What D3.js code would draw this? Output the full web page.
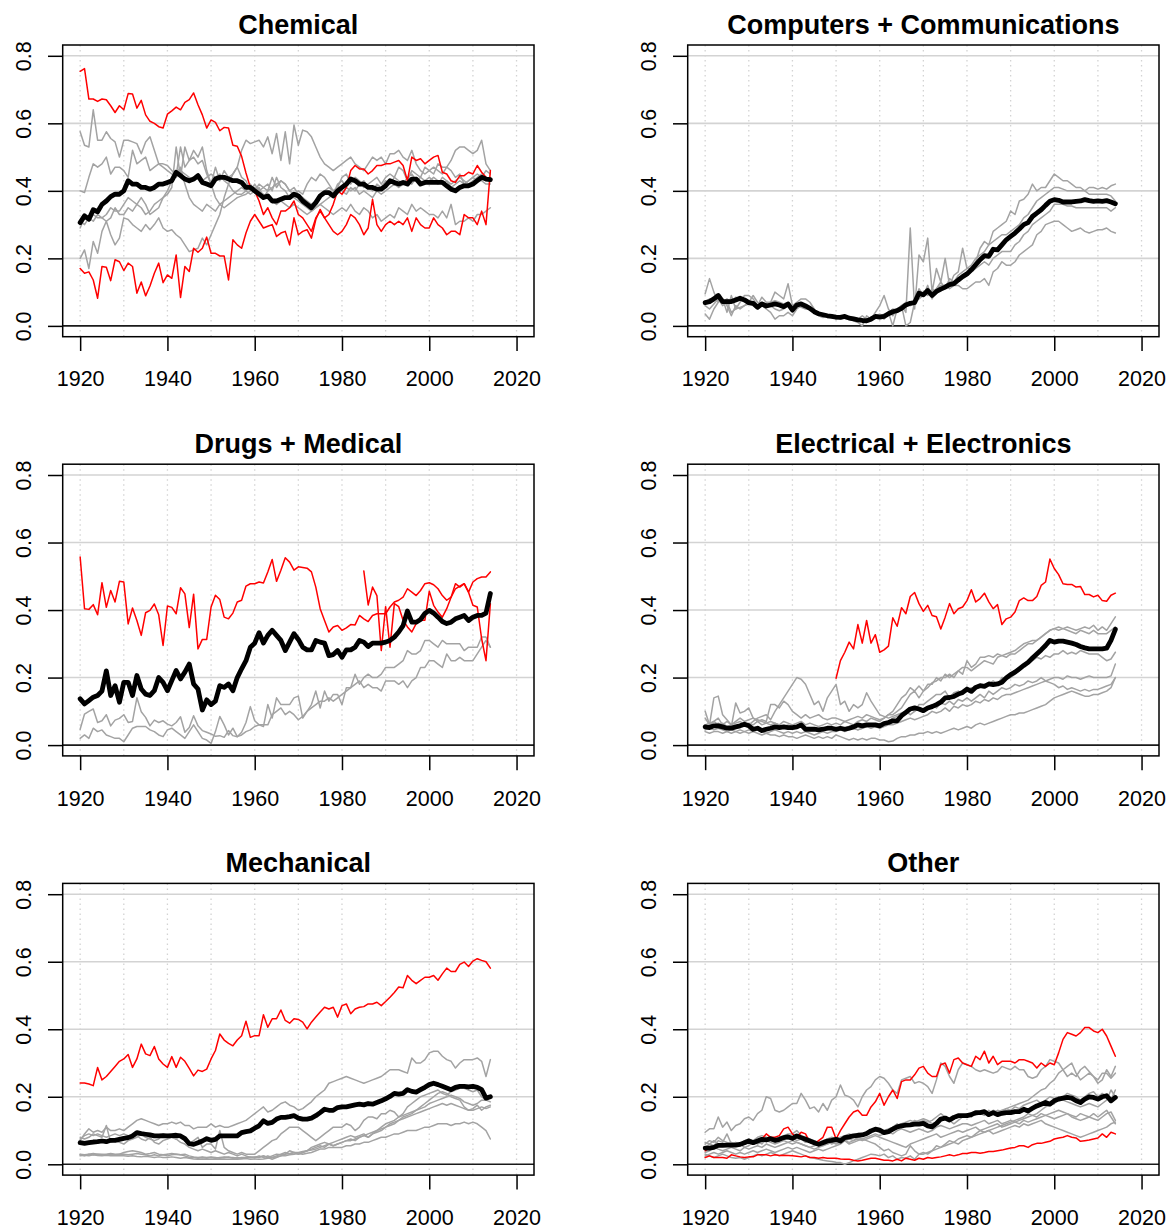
<!DOCTYPE html>
<html>
<head>
<meta charset="utf-8">
<script src="https://cdn.jsdelivr.net/npm/d3@7"></script>
<style>
  html, body { margin: 0; padding: 0; background: #fff; }
  svg { display: block; font-family: "Liberation Sans", Arial, Helvetica, sans-serif; }
</style>
</head>
<body>
<svg id="chart" width="1168" height="1227"></svg>
<script>
// ---- axis settings ----
const firstYear = 1920;
const xTicks = [1920, 1940, 1960, 1980, 2000, 2020];
const yTicks = [0, 0.2, 0.4, 0.6, 0.8];
const yTickLabels = ["0.0", "0.2", "0.4", "0.6", "0.8"];
const panelTitles = ["Chemical", "Computers + Communications", "Drugs + Medical",
                     "Electrical + Electronics", "Mechanical", "Other"];

// ---- Chemical (1920-2014) ----
const chemMean = [
  0.306,0.326,0.316,0.344,0.338,0.36,0.37,0.383,0.39,0.39,
  0.40,0.43,0.42,0.42,0.41,0.41,0.405,0.41,0.42,0.42,
  0.425,0.43,0.455,0.445,0.435,0.43,0.435,0.445,0.425,0.42,
  0.415,0.435,0.44,0.44,0.435,0.43,0.43,0.425,0.41,0.41,
  0.40,0.39,0.38,0.385,0.37,0.37,0.375,0.38,0.38,0.39,
  0.385,0.37,0.36,0.35,0.365,0.385,0.395,0.395,0.385,0.40,
  0.41,0.42,0.435,0.43,0.42,0.42,0.41,0.41,0.405,0.405,
  0.415,0.43,0.425,0.42,0.425,0.42,0.435,0.435,0.42,0.425,
  0.425,0.425,0.425,0.425,0.415,0.405,0.40,0.41,0.415,0.415,
  0.42,0.43,0.44,0.435,0.433];
const chemRedA = [
  0.754,0.762,0.672,0.672,0.665,0.672,0.67,0.652,0.632,0.652,
  0.64,0.688,0.687,0.645,0.668,0.625,0.606,0.60,0.59,0.586,
  0.627,0.637,0.648,0.64,0.662,0.67,0.69,0.655,0.625,0.586,
  0.61,0.603,0.578,0.588,0.586,0.535,0.532,0.502,0.453,0.41,
  0.40,0.37,0.33,0.35,0.32,0.30,0.34,0.34,0.35,0.37,
  0.33,0.32,0.30,0.28,0.32,0.34,0.32,0.30,0.28,0.27,
  0.28,0.30,0.33,0.32,0.30,0.27,0.29,0.375,0.30,0.28,
  0.30,0.31,0.30,0.31,0.30,0.32,0.28,0.32,0.30,0.29,
  0.29,0.32,0.30,0.29,0.27,0.28,0.28,0.27,0.33,0.32,
  0.32,0.30,0.34,0.30,0.46];
const chemRedB = [
  0.17,0.156,0.16,0.136,0.082,0.176,0.174,0.134,0.196,0.19,
  0.164,0.186,0.176,0.097,0.13,0.089,0.118,0.156,0.186,0.128,
  0.151,0.141,0.21,0.084,0.176,0.161,0.23,0.218,0.23,0.263,
  0.215,0.215,0.207,0.207,0.136,0.255,0.24,0.23,0.275,0.31,
  0.33,0.31,0.29,0.295,0.30,0.265,0.275,0.28,0.24,0.32,
  0.27,0.28,0.285,0.26,0.315,0.345,0.32,0.33,0.36,0.40,
  0.39,0.41,0.46,0.475,0.465,0.465,0.45,0.46,0.475,0.475,
  0.48,0.48,0.485,0.49,0.475,0.43,0.50,0.49,0.495,0.48,
  0.49,0.50,0.505,0.455,0.45,0.43,0.425,0.445,0.445,0.455,
  0.45,0.475,0.455,0.44,0.435];
const chemGray1 = [
  0.575,0.535,0.53,0.64,0.55,0.55,0.575,0.555,0.545,0.50,
  0.55,0.55,0.545,0.54,0.51,0.545,0.56,0.52,0.48,0.48,
  0.475,0.46,0.445,0.53,0.47,0.49,0.50,0.48,0.49,0.45,
  0.42,0.38,0.36,0.35,0.36,0.37,0.38,0.385,0.39,0.40,
  0.41,0.40,0.39,0.38,0.37,0.36,0.37,0.36,0.35,0.36,
  0.35,0.34,0.33,0.34,0.35,0.36,0.35,0.34,0.33,0.34,
  0.35,0.34,0.36,0.34,0.33,0.35,0.34,0.32,0.33,0.31,
  0.32,0.33,0.32,0.35,0.34,0.33,0.36,0.34,0.35,0.34,
  0.33,0.33,0.32,0.34,0.32,0.36,0.30,0.31,0.31,0.32,
  0.31,0.33,0.33,0.34,0.35];
const chemGray2 = [
  0.40,0.395,0.44,0.48,0.47,0.48,0.50,0.45,0.47,0.47,
  0.46,0.44,0.52,0.48,0.49,0.50,0.46,0.47,0.48,0.47,
  0.46,0.45,0.44,0.46,0.45,0.44,0.43,0.44,0.43,0.44,
  0.45,0.44,0.45,0.43,0.42,0.40,0.39,0.39,0.40,0.39,
  0.40,0.42,0.41,0.42,0.40,0.44,0.41,0.40,0.38,0.38,
  0.37,0.36,0.35,0.34,0.35,0.36,0.37,0.38,0.39,0.42,
  0.43,0.41,0.40,0.41,0.39,0.40,0.39,0.38,0.40,0.39,
  0.40,0.41,0.42,0.41,0.42,0.43,0.42,0.44,0.43,0.42,
  0.43,0.44,0.43,0.42,0.43,0.41,0.42,0.43,0.42,0.43,
  0.44,0.43,0.43,0.42,0.42];
const chemGray3 = [
  0.29,0.32,0.31,0.33,0.32,0.32,0.33,0.35,0.34,0.34,
  0.36,0.38,0.37,0.36,0.35,0.33,0.34,0.36,0.37,0.38,
  0.39,0.41,0.53,0.44,0.53,0.49,0.52,0.50,0.53,0.46,
  0.42,0.47,0.43,0.46,0.44,0.45,0.47,0.44,0.43,0.40,
  0.42,0.40,0.41,0.40,0.44,0.41,0.43,0.42,0.40,0.39,
  0.40,0.39,0.42,0.44,0.43,0.45,0.44,0.42,0.40,0.41,
  0.44,0.45,0.42,0.44,0.43,0.41,0.42,0.43,0.44,0.42,
  0.44,0.45,0.44,0.47,0.46,0.43,0.46,0.45,0.44,0.47,
  0.46,0.45,0.48,0.47,0.47,0.46,0.44,0.45,0.42,0.43,
  0.44,0.45,0.44,0.46,0.45];
const chemGray4 = [
  0.20,0.225,0.17,0.25,0.215,0.28,0.31,0.27,0.24,0.26,
  0.32,0.315,0.30,0.29,0.28,0.30,0.285,0.30,0.32,0.29,
  0.28,0.285,0.27,0.26,0.24,0.22,0.225,0.23,0.26,0.24,
  0.27,0.30,0.33,0.38,0.42,0.45,0.47,0.52,0.55,0.54,
  0.545,0.55,0.53,0.56,0.51,0.57,0.49,0.575,0.48,0.595,
  0.535,0.58,0.575,0.56,0.53,0.50,0.48,0.47,0.46,0.47,
  0.48,0.49,0.50,0.48,0.47,0.46,0.48,0.50,0.49,0.50,
  0.48,0.51,0.51,0.52,0.50,0.49,0.52,0.48,0.46,0.45,
  0.46,0.47,0.46,0.45,0.47,0.49,0.52,0.53,0.53,0.52,
  0.51,0.52,0.55,0.48,0.46];
const chemGray5 = [
  0.31,0.30,0.32,0.31,0.33,0.32,0.31,0.32,0.35,0.33,
  0.33,0.35,0.34,0.36,0.38,0.36,0.33,0.34,0.35,0.38,
  0.40,0.43,0.45,0.47,0.42,0.38,0.36,0.35,0.34,0.36,
  0.35,0.34,0.36,0.37,0.38,0.39,0.40,0.41,0.40,0.42,
  0.40,0.41,0.38,0.40,0.41,0.42,0.43,0.42,0.40,0.41,
  0.39,0.38,0.37,0.36,0.37,0.38,0.40,0.41,0.40,0.41,
  0.40,0.39,0.41,0.40,0.42,0.43,0.41,0.40,0.42,0.41,
  0.43,0.42,0.44,0.43,0.42,0.44,0.45,0.43,0.44,0.43,
  0.44,0.43,0.42,0.44,0.43,0.42,0.43,0.44,0.43,0.42,
  0.43,0.44,0.45,0.43,0.44];

// ---- Computers + Communications ----
const compMean = [
  0.069,0.072,0.08,0.09,0.072,0.072,0.072,0.077,0.082,0.077,
  0.069,0.067,0.055,0.065,0.059,0.062,0.065,0.062,0.057,0.065,
  0.047,0.062,0.065,0.059,0.052,0.042,0.036,0.033,0.030,0.028,
  0.026,0.025,0.028,0.023,0.021,0.018,0.016,0.015,0.02,0.028,
  0.026,0.028,0.036,0.042,0.045,0.052,0.062,0.067,0.069,0.097,
  0.092,0.105,0.09,0.102,0.109,0.115,0.122,0.125,0.136,0.146,
  0.154,0.166,0.181,0.196,0.208,0.206,0.227,0.225,0.24,0.255,
  0.265,0.275,0.287,0.30,0.306,0.324,0.334,0.344,0.357,0.369,
  0.374,0.372,0.367,0.367,0.367,0.369,0.37,0.374,0.371,0.369,
  0.37,0.369,0.371,0.367,0.362];
const compGray1 = [
  0.095,0.14,0.10,0.07,0.08,0.04,0.09,0.05,0.07,0.09,
  0.09,0.08,0.06,0.085,0.07,0.07,0.10,0.09,0.08,0.125,
  0.06,0.07,0.08,0.08,0.07,0.05,0.03,0.025,0.03,0.03,
  0.02,0.025,0.03,0.02,0.015,0.01,0.0,0.03,0.02,0.04,
  0.06,0.09,0.05,0.03,0.05,0.06,0.04,0.29,0.05,0.21,
  0.19,0.26,0.10,0.17,0.13,0.20,0.12,0.15,0.16,0.23,
  0.17,0.17,0.19,0.23,0.25,0.24,0.28,0.29,0.30,0.31,
  0.34,0.33,0.37,0.375,0.39,0.42,0.40,0.41,0.41,0.43,
  0.45,0.44,0.43,0.43,0.42,0.41,0.41,0.40,0.41,0.41,
  0.405,0.41,0.405,0.415,0.42];
const compGray2 = [
  0.035,0.02,0.05,0.07,0.08,0.06,0.03,0.06,0.05,0.06,
  0.07,0.09,0.07,0.06,0.05,0.04,0.02,0.03,0.03,0.04,
  0.03,0.05,0.06,0.06,0.05,0.04,0.035,0.03,0.03,0.025,
  0.025,0.02,0.025,0.02,0.02,0.015,0.02,0.01,0.02,0.03,
  0.03,0.02,0.04,0.0,0.05,0.06,0.0,0.01,0.07,0.11,
  0.09,0.12,0.08,0.11,0.13,0.11,0.14,0.13,0.15,0.16,
  0.17,0.18,0.20,0.21,0.22,0.24,0.25,0.26,0.27,0.27,
  0.28,0.29,0.30,0.32,0.33,0.35,0.37,0.38,0.39,0.40,
  0.41,0.41,0.405,0.40,0.40,0.40,0.40,0.40,0.39,0.39,
  0.39,0.39,0.39,0.385,0.37];
const compGray3 = [
  0.06,0.05,0.065,0.08,0.06,0.07,0.04,0.05,0.055,0.06,
  0.065,0.06,0.05,0.06,0.055,0.06,0.05,0.045,0.05,0.06,
  0.05,0.06,0.065,0.06,0.05,0.04,0.03,0.03,0.028,0.025,
  0.025,0.028,0.022,0.02,0.02,0.02,0.015,0.02,0.025,0.03,
  0.03,0.035,0.04,0.045,0.05,0.055,0.06,0.065,0.07,0.08,
  0.09,0.10,0.10,0.11,0.12,0.12,0.13,0.13,0.14,0.15,
  0.15,0.16,0.17,0.18,0.19,0.18,0.20,0.21,0.22,0.22,
  0.22,0.24,0.25,0.27,0.28,0.30,0.31,0.32,0.33,0.34,
  0.36,0.36,0.36,0.355,0.355,0.35,0.35,0.35,0.35,0.35,
  0.35,0.35,0.35,0.34,0.35];
const compGray4 = [
  0.07,0.08,0.075,0.09,0.07,0.08,0.07,0.085,0.08,0.075,
  0.07,0.065,0.06,0.07,0.065,0.07,0.075,0.07,0.065,0.07,
  0.04,0.06,0.055,0.05,0.05,0.045,0.04,0.035,0.03,0.03,
  0.03,0.03,0.03,0.025,0.025,0.02,0.03,0.02,0.025,0.03,
  0.035,0.03,0.04,0.05,0.045,0.06,0.07,0.06,0.07,0.09,
  0.10,0.09,0.11,0.10,0.11,0.12,0.11,0.12,0.12,0.11,
  0.11,0.12,0.13,0.13,0.14,0.12,0.16,0.17,0.19,0.18,
  0.18,0.19,0.21,0.22,0.23,0.24,0.27,0.28,0.30,0.305,
  0.31,0.31,0.30,0.29,0.28,0.285,0.29,0.28,0.275,0.28,
  0.285,0.285,0.29,0.28,0.275];

// ---- Drugs + Medical ----
const drugMean = [
  0.137,0.122,0.132,0.142,0.147,0.16,0.22,0.147,0.176,0.127,
  0.186,0.186,0.147,0.206,0.166,0.151,0.147,0.161,0.20,0.186,
  0.161,0.191,0.221,0.196,0.216,0.24,0.181,0.166,0.104,0.134,
  0.12,0.13,0.176,0.171,0.181,0.161,0.20,0.226,0.25,0.29,
  0.302,0.333,0.302,0.325,0.34,0.325,0.31,0.28,0.305,0.33,
  0.313,0.29,0.282,0.282,0.31,0.305,0.302,0.265,0.268,0.28,
  0.26,0.282,0.282,0.29,0.31,0.305,0.292,0.302,0.302,0.302,
  0.305,0.31,0.32,0.335,0.354,0.397,0.364,0.364,0.372,0.39,
  0.399,0.391,0.379,0.366,0.36,0.364,0.374,0.379,0.384,0.369,
  0.379,0.384,0.384,0.391,0.449];
const drugRed1 = [
  0.557,0.404,0.402,0.416,0.386,0.481,0.408,0.458,0.424,0.485,
  0.483,0.359,0.406,0.369,0.325,0.392,0.399,0.418,0.386,0.295,
  0.412,0.408,0.389,0.466,0.448,0.348,0.447,0.285,0.313,0.313,
  0.409,0.444,0.431,0.379,0.374,0.391,0.424,0.429,0.471,0.478,
  0.478,0.483,0.48,0.513,0.55,0.485,0.518,0.555,0.542,0.518,
  0.528,0.526,0.524,0.513,0.468,0.404,0.369,0.335,0.35,0.354,
  0.34,0.347,0.357,0.356,0.384,0.374,0.366,0.384,0.389,0.389,
  0.389,0.409,0.424,0.429,0.438,0.463,0.453,0.443,0.458,0.478,
  0.481,0.475,0.463,0.443,0.429,0.438,0.463,0.471,0.478,0.453,
  0.483,0.493,0.498,0.498,0.513];
const drugRed2Start = 1985;
const drugRed2 = [
  0.516,0.415,0.468,0.443,0.28,0.41,0.29,0.419,0.41,0.37,
  0.35,0.335,0.36,0.37,0.37,0.456,0.414,0.394,0.379,0.404,
  0.438,0.478,0.468,0.478,0.453,0.414,0.409,0.315,0.25,0.419];
const drugGray1 = [
  0.047,0.092,0.10,0.107,0.067,0.072,0.09,0.057,0.074,0.079,
  0.09,0.067,0.07,0.14,0.099,0.082,0.057,0.074,0.067,0.072,
  0.062,0.057,0.067,0.084,0.038,0.052,0.087,0.057,0.043,0.038,
  0.033,0.026,0.028,0.023,0.043,0.028,0.025,0.038,0.067,0.114,
  0.072,0.06,0.055,0.12,0.08,0.14,0.12,0.12,0.12,0.14,
  0.145,0.08,0.10,0.12,0.16,0.11,0.16,0.13,0.15,0.15,
  0.12,0.17,0.17,0.21,0.18,0.20,0.21,0.20,0.20,0.21,
  0.23,0.23,0.23,0.24,0.25,0.28,0.27,0.27,0.28,0.31,
  0.31,0.30,0.29,0.31,0.30,0.30,0.30,0.30,0.28,0.29,
  0.29,0.29,0.32,0.32,0.29];
const drugGray2 = [
  0.02,0.03,0.02,0.05,0.04,0.045,0.03,0.025,0.02,0.02,
  0.01,0.03,0.05,0.055,0.055,0.055,0.045,0.04,0.03,0.025,
  0.045,0.05,0.04,0.03,0.02,0.04,0.06,0.04,0.02,0.015,
  0.005,0.04,0.085,0.06,0.03,0.05,0.025,0.03,0.04,0.045,
  0.055,0.06,0.06,0.06,0.09,0.10,0.11,0.09,0.10,0.09,
  0.075,0.085,0.10,0.11,0.12,0.13,0.13,0.14,0.13,0.14,
  0.15,0.16,0.17,0.18,0.19,0.17,0.18,0.17,0.17,0.16,
  0.19,0.19,0.19,0.18,0.19,0.17,0.19,0.20,0.23,0.23,
  0.25,0.25,0.24,0.23,0.27,0.25,0.25,0.26,0.25,0.25,
  0.25,0.27,0.29,0.31,0.29];

// ---- Electrical + Electronics ----
const elecMean = [
  0.054,0.052,0.057,0.057,0.054,0.05,0.05,0.054,0.057,0.062,
  0.057,0.047,0.05,0.043,0.047,0.05,0.054,0.052,0.054,0.052,
  0.052,0.054,0.06,0.047,0.047,0.047,0.045,0.047,0.05,0.05,
  0.047,0.05,0.047,0.05,0.054,0.06,0.057,0.06,0.06,0.06,
  0.057,0.064,0.067,0.072,0.072,0.087,0.097,0.107,0.11,0.107,
  0.102,0.11,0.114,0.12,0.127,0.14,0.141,0.144,0.151,0.156,
  0.166,0.159,0.171,0.176,0.174,0.181,0.179,0.181,0.186,0.199,
  0.209,0.216,0.226,0.236,0.245,0.258,0.27,0.282,0.295,0.31,
  0.305,0.308,0.308,0.305,0.302,0.298,0.292,0.288,0.285,0.285,
  0.285,0.285,0.287,0.31,0.343];
const elecRedStart = 1950;
const elecRed = [
  0.198,0.25,0.275,0.305,0.285,0.357,0.302,0.369,0.302,0.327,
  0.275,0.282,0.293,0.377,0.352,0.407,0.389,0.44,0.452,0.419,
  0.396,0.414,0.384,0.38,0.344,0.379,0.419,0.389,0.404,0.409,
  0.428,0.46,0.424,0.434,0.45,0.424,0.404,0.416,0.357,0.374,
  0.379,0.394,0.428,0.436,0.428,0.428,0.44,0.473,0.483,0.551,
  0.523,0.505,0.478,0.476,0.476,0.468,0.47,0.446,0.446,0.439,
  0.444,0.428,0.426,0.444,0.45];
const elecGray1 = [
  0.10,0.06,0.07,0.08,0.06,0.07,0.06,0.065,0.07,0.06,
  0.065,0.06,0.07,0.06,0.065,0.07,0.065,0.06,0.07,0.065,
  0.06,0.065,0.07,0.06,0.065,0.06,0.055,0.06,0.065,0.06,
  0.065,0.06,0.07,0.065,0.06,0.07,0.075,0.07,0.08,0.075,
  0.07,0.08,0.09,0.10,0.12,0.14,0.15,0.17,0.16,0.175,
  0.16,0.17,0.185,0.19,0.20,0.20,0.21,0.20,0.22,0.21,
  0.25,0.23,0.24,0.26,0.26,0.265,0.26,0.27,0.265,0.27,
  0.275,0.28,0.29,0.30,0.305,0.31,0.31,0.32,0.33,0.34,
  0.345,0.34,0.345,0.35,0.345,0.34,0.345,0.35,0.345,0.355,
  0.34,0.35,0.34,0.36,0.38];
const elecGray2 = [
  0.08,0.06,0.14,0.145,0.09,0.075,0.06,0.07,0.08,0.07,
  0.075,0.08,0.07,0.075,0.07,0.12,0.12,0.11,0.13,0.12,
  0.10,0.09,0.08,0.09,0.08,0.085,0.09,0.08,0.075,0.08,
  0.08,0.075,0.07,0.075,0.08,0.085,0.08,0.09,0.085,0.08,
  0.075,0.08,0.09,0.09,0.10,0.11,0.13,0.15,0.16,0.14,
  0.16,0.18,0.18,0.20,0.19,0.21,0.20,0.21,0.22,0.23,
  0.23,0.22,0.23,0.24,0.25,0.245,0.24,0.26,0.265,0.26,
  0.27,0.27,0.28,0.29,0.30,0.30,0.31,0.32,0.33,0.34,
  0.345,0.35,0.345,0.34,0.335,0.33,0.34,0.335,0.33,0.34,
  0.33,0.33,0.33,0.34,0.35];
const elecGray3 = [
  0.06,0.055,0.06,0.065,0.06,0.05,0.055,0.125,0.095,0.10,
  0.11,0.08,0.075,0.07,0.065,0.06,0.065,0.06,0.055,0.06,
  0.055,0.05,0.055,0.05,0.045,0.05,0.045,0.05,0.045,0.05,
  0.05,0.045,0.05,0.055,0.05,0.045,0.05,0.055,0.06,0.055,
  0.06,0.065,0.07,0.08,0.085,0.09,0.10,0.11,0.10,0.12,
  0.12,0.13,0.14,0.15,0.15,0.16,0.14,0.155,0.16,0.15,
  0.16,0.17,0.165,0.18,0.175,0.18,0.19,0.18,0.20,0.195,
  0.20,0.21,0.22,0.235,0.24,0.25,0.26,0.255,0.265,0.26,
  0.27,0.27,0.28,0.27,0.275,0.27,0.28,0.275,0.27,0.27,
  0.27,0.26,0.25,0.255,0.275];
const elecGray4 = [
  0.045,0.05,0.045,0.05,0.045,0.04,0.045,0.04,0.045,0.04,
  0.045,0.04,0.045,0.04,0.035,0.04,0.045,0.04,0.035,0.04,
  0.035,0.04,0.035,0.04,0.035,0.03,0.035,0.04,0.035,0.04,
  0.04,0.045,0.04,0.045,0.05,0.045,0.05,0.055,0.05,0.055,
  0.05,0.055,0.06,0.06,0.065,0.07,0.075,0.08,0.075,0.08,
  0.085,0.09,0.10,0.095,0.10,0.11,0.10,0.115,0.11,0.12,
  0.115,0.12,0.13,0.125,0.135,0.13,0.14,0.135,0.145,0.15,
  0.15,0.155,0.16,0.165,0.17,0.175,0.18,0.185,0.19,0.195,
  0.20,0.20,0.195,0.205,0.20,0.20,0.195,0.20,0.205,0.20,
  0.20,0.20,0.20,0.205,0.24];
const elecGray5 = [
  0.04,0.035,0.04,0.04,0.035,0.04,0.035,0.04,0.035,0.04,
  0.035,0.04,0.035,0.03,0.035,0.03,0.03,0.025,0.03,0.025,
  0.025,0.02,0.025,0.03,0.025,0.02,0.025,0.02,0.025,0.02,
  0.03,0.025,0.02,0.015,0.02,0.015,0.02,0.015,0.02,0.02,
  0.015,0.015,0.01,0.012,0.02,0.025,0.025,0.03,0.03,0.035,
  0.035,0.04,0.035,0.04,0.035,0.04,0.045,0.05,0.045,0.05,
  0.055,0.05,0.06,0.065,0.06,0.065,0.07,0.075,0.08,0.085,
  0.09,0.09,0.095,0.095,0.10,0.105,0.11,0.115,0.12,0.13,
  0.14,0.145,0.15,0.155,0.16,0.155,0.15,0.145,0.145,0.15,
  0.15,0.155,0.16,0.17,0.20];
const elecGray6 = [
  0.06,0.065,0.07,0.06,0.065,0.055,0.06,0.05,0.06,0.065,
  0.06,0.07,0.08,0.085,0.09,0.075,0.10,0.12,0.14,0.16,
  0.18,0.20,0.195,0.18,0.15,0.12,0.13,0.10,0.14,0.16,
  0.18,0.12,0.13,0.10,0.12,0.11,0.12,0.155,0.13,0.11,
  0.09,0.085,0.08,0.085,0.09,0.095,0.10,0.09,0.10,0.11,
  0.105,0.11,0.12,0.11,0.125,0.12,0.13,0.12,0.135,0.13,
  0.14,0.13,0.14,0.15,0.14,0.16,0.15,0.16,0.17,0.165,
  0.17,0.18,0.175,0.18,0.19,0.185,0.19,0.20,0.19,0.185,
  0.18,0.17,0.175,0.165,0.17,0.165,0.16,0.165,0.16,0.165,
  0.165,0.17,0.175,0.18,0.20];

// ---- Mechanical ----
const mechMean = [
  0.064,0.062,0.064,0.066,0.067,0.069,0.067,0.071,0.071,0.074,
  0.077,0.079,0.084,0.094,0.091,0.089,0.087,0.084,0.084,0.085,
  0.084,0.085,0.086,0.084,0.076,0.061,0.059,0.064,0.069,0.076,
  0.071,0.074,0.084,0.084,0.084,0.084,0.084,0.094,0.097,0.099,
  0.107,0.114,0.129,0.121,0.124,0.134,0.139,0.139,0.141,0.144,
  0.137,0.134,0.134,0.137,0.144,0.153,0.163,0.16,0.16,0.168,
  0.17,0.17,0.173,0.176,0.178,0.176,0.18,0.178,0.183,0.188,
  0.194,0.201,0.21,0.208,0.21,0.221,0.216,0.214,0.221,0.228,
  0.236,0.24,0.236,0.231,0.226,0.221,0.228,0.231,0.231,0.229,
  0.231,0.228,0.221,0.196,0.20];
const mechRed = [
  0.241,0.241,0.238,0.233,0.287,0.25,0.26,0.275,0.29,0.305,
  0.312,0.325,0.287,0.312,0.356,0.327,0.322,0.349,0.312,0.297,
  0.287,0.319,0.287,0.317,0.305,0.284,0.262,0.279,0.275,0.282,
  0.312,0.337,0.386,0.368,0.358,0.351,0.368,0.381,0.424,0.376,
  0.381,0.381,0.443,0.406,0.431,0.431,0.457,0.426,0.418,0.431,
  0.429,0.421,0.401,0.421,0.436,0.451,0.465,0.46,0.465,0.436,
  0.47,0.475,0.446,0.46,0.465,0.467,0.475,0.475,0.48,0.47,
  0.482,0.495,0.509,0.525,0.523,0.559,0.545,0.535,0.545,0.554,
  0.554,0.559,0.545,0.564,0.581,0.571,0.571,0.592,0.599,0.586,
  0.602,0.609,0.604,0.60,0.581];
const mechGray1 = [
  0.07,0.09,0.105,0.095,0.10,0.095,0.11,0.10,0.10,0.105,
  0.10,0.11,0.12,0.13,0.135,0.13,0.125,0.12,0.115,0.12,
  0.12,0.125,0.12,0.125,0.115,0.115,0.105,0.11,0.11,0.11,
  0.12,0.11,0.115,0.11,0.11,0.115,0.12,0.125,0.13,0.14,
  0.15,0.16,0.17,0.155,0.16,0.17,0.18,0.185,0.175,0.17,
  0.16,0.165,0.175,0.185,0.20,0.21,0.22,0.24,0.245,0.25,
  0.255,0.26,0.255,0.25,0.245,0.24,0.245,0.25,0.255,0.26,
  0.27,0.28,0.28,0.28,0.275,0.27,0.315,0.30,0.30,0.31,
  0.33,0.335,0.335,0.32,0.31,0.305,0.285,0.30,0.31,0.31,
  0.31,0.315,0.305,0.26,0.31];
const mechGray2 = [
  0.08,0.075,0.08,0.09,0.085,0.08,0.115,0.065,0.07,0.065,
  0.06,0.07,0.075,0.08,0.09,0.08,0.075,0.07,0.075,0.09,
  0.085,0.08,0.075,0.085,0.07,0.06,0.07,0.08,0.05,0.06,
  0.06,0.045,0.10,0.05,0.04,0.035,0.03,0.035,0.03,0.03,
  0.03,0.04,0.05,0.06,0.07,0.075,0.09,0.10,0.11,0.11,
  0.11,0.10,0.09,0.08,0.07,0.08,0.09,0.10,0.11,0.11,
  0.11,0.12,0.115,0.10,0.11,0.13,0.14,0.14,0.135,0.15,
  0.15,0.16,0.155,0.14,0.15,0.17,0.18,0.19,0.20,0.205,
  0.21,0.215,0.22,0.21,0.205,0.215,0.22,0.225,0.225,0.22,
  0.215,0.22,0.20,0.19,0.185];
const mechGray3 = [
  0.075,0.085,0.09,0.085,0.09,0.085,0.08,0.085,0.09,0.085,
  0.09,0.085,0.08,0.085,0.075,0.07,0.08,0.065,0.06,0.07,
  0.075,0.08,0.075,0.065,0.06,0.05,0.045,0.04,0.045,0.04,
  0.035,0.04,0.035,0.03,0.035,0.03,0.025,0.03,0.025,0.02,
  0.02,0.025,0.02,0.025,0.02,0.025,0.03,0.035,0.03,0.035,
  0.03,0.035,0.04,0.045,0.05,0.055,0.05,0.06,0.055,0.06,
  0.065,0.07,0.07,0.075,0.08,0.085,0.08,0.09,0.095,0.10,
  0.11,0.115,0.12,0.13,0.135,0.14,0.145,0.15,0.155,0.16,
  0.165,0.17,0.175,0.18,0.175,0.18,0.175,0.17,0.165,0.16,
  0.16,0.165,0.17,0.165,0.17];
const mechGray4 = [
  0.03,0.028,0.03,0.028,0.03,0.03,0.028,0.03,0.028,0.03,
  0.03,0.028,0.03,0.032,0.03,0.028,0.025,0.028,0.025,0.028,
  0.025,0.028,0.03,0.028,0.025,0.02,0.02,0.018,0.02,0.018,
  0.02,0.018,0.02,0.022,0.02,0.02,0.018,0.02,0.02,0.022,
  0.02,0.022,0.025,0.02,0.025,0.03,0.028,0.03,0.032,0.035,
  0.035,0.038,0.04,0.042,0.045,0.05,0.055,0.06,0.055,0.06,
  0.065,0.07,0.075,0.07,0.08,0.085,0.09,0.095,0.10,0.105,
  0.11,0.12,0.125,0.13,0.14,0.145,0.15,0.16,0.165,0.17,
  0.18,0.185,0.19,0.195,0.20,0.205,0.20,0.195,0.185,0.18,
  0.175,0.18,0.19,0.19,0.20];
const mechGray5 = [
  0.025,0.027,0.025,0.028,0.026,0.025,0.027,0.025,0.026,0.025,
  0.025,0.024,0.025,0.023,0.022,0.024,0.022,0.02,0.022,0.02,
  0.02,0.022,0.02,0.018,0.02,0.018,0.016,0.015,0.016,0.015,
  0.015,0.016,0.015,0.016,0.015,0.016,0.015,0.016,0.017,0.015,
  0.016,0.015,0.016,0.018,0.02,0.022,0.025,0.025,0.028,0.03,
  0.032,0.03,0.033,0.035,0.04,0.045,0.045,0.05,0.05,0.05,
  0.05,0.055,0.055,0.06,0.06,0.065,0.065,0.07,0.075,0.08,
  0.08,0.085,0.09,0.09,0.095,0.10,0.10,0.10,0.105,0.11,
  0.11,0.115,0.12,0.12,0.12,0.115,0.12,0.12,0.125,0.12,
  0.125,0.12,0.11,0.10,0.075];
const mechGray6 = [
  0.028,0.025,0.03,0.032,0.03,0.028,0.03,0.032,0.03,0.03,
  0.035,0.038,0.04,0.038,0.035,0.03,0.032,0.035,0.03,0.028,
  0.03,0.032,0.03,0.028,0.03,0.025,0.022,0.02,0.022,0.02,
  0.022,0.02,0.018,0.02,0.022,0.018,0.02,0.018,0.02,0.02,
  0.022,0.02,0.025,0.02,0.015,0.02,0.025,0.03,0.04,0.035,
  0.03,0.035,0.04,0.05,0.055,0.06,0.065,0.06,0.065,0.07,
  0.075,0.08,0.085,0.08,0.085,0.09,0.08,0.09,0.10,0.11,
  0.12,0.125,0.13,0.14,0.145,0.15,0.155,0.16,0.17,0.18,
  0.19,0.20,0.21,0.215,0.21,0.20,0.195,0.19,0.17,0.16,
  0.165,0.175,0.16,0.17,0.175];

// ---- Other ----
const otherMean = [
  0.048,0.048,0.05,0.056,0.056,0.057,0.057,0.057,0.059,0.064,
  0.069,0.064,0.069,0.074,0.072,0.076,0.071,0.074,0.079,0.081,
  0.077,0.084,0.079,0.074,0.069,0.064,0.059,0.064,0.069,0.071,
  0.074,0.069,0.079,0.081,0.084,0.086,0.087,0.091,0.099,0.104,
  0.101,0.094,0.097,0.104,0.111,0.114,0.116,0.117,0.119,0.119,
  0.121,0.114,0.111,0.121,0.134,0.137,0.131,0.139,0.144,0.144,
  0.144,0.147,0.153,0.153,0.156,0.147,0.153,0.147,0.151,0.153,
  0.153,0.156,0.156,0.163,0.158,0.166,0.173,0.178,0.183,0.178,
  0.188,0.193,0.196,0.198,0.196,0.188,0.183,0.193,0.20,0.198,
  0.193,0.20,0.203,0.188,0.198];
const otherRedHigh = [
  0.04,0.048,0.05,0.055,0.06,0.058,0.056,0.06,0.058,0.062,
  0.065,0.06,0.068,0.075,0.09,0.08,0.08,0.085,0.105,0.11,
  0.09,0.08,0.095,0.09,0.065,0.06,0.07,0.08,0.11,0.11,
  0.075,0.10,0.12,0.14,0.155,0.16,0.145,0.145,0.17,0.185,
  0.21,0.175,0.20,0.22,0.195,0.245,0.25,0.25,0.265,0.285,
  0.29,0.27,0.26,0.26,0.295,0.30,0.27,0.31,0.315,0.30,
  0.295,0.29,0.32,0.31,0.335,0.30,0.32,0.295,0.305,0.305,
  0.305,0.30,0.31,0.31,0.305,0.30,0.285,0.30,0.29,0.30,
  0.295,0.33,0.37,0.39,0.385,0.38,0.39,0.405,0.405,0.395,
  0.39,0.40,0.38,0.35,0.32];
const otherRedLow = [
  0.02,0.025,0.02,0.02,0.02,0.018,0.028,0.025,0.022,0.02,
  0.022,0.022,0.028,0.028,0.028,0.025,0.028,0.026,0.027,0.026,
  0.025,0.024,0.022,0.025,0.02,0.02,0.018,0.02,0.018,0.018,
  0.018,0.016,0.015,0.015,0.012,0.01,0.012,0.015,0.018,0.018,
  0.015,0.012,0.012,0.01,0.015,0.01,0.018,0.015,0.012,0.018,
  0.015,0.02,0.018,0.02,0.022,0.025,0.028,0.025,0.028,0.032,
  0.032,0.035,0.035,0.033,0.035,0.038,0.038,0.04,0.042,0.045,
  0.048,0.05,0.055,0.055,0.05,0.058,0.062,0.062,0.065,0.068,
  0.075,0.078,0.08,0.085,0.08,0.078,0.068,0.07,0.072,0.075,
  0.078,0.09,0.08,0.095,0.09];
const otherGray1 = [
  0.095,0.105,0.105,0.14,0.11,0.125,0.10,0.115,0.12,0.135,
  0.14,0.13,0.15,0.16,0.20,0.195,0.16,0.155,0.16,0.17,
  0.18,0.18,0.21,0.19,0.165,0.17,0.155,0.18,0.16,0.19,
  0.20,0.235,0.205,0.20,0.19,0.17,0.20,0.22,0.23,0.25,
  0.26,0.255,0.24,0.22,0.21,0.25,0.255,0.26,0.24,0.245,
  0.24,0.23,0.21,0.25,0.30,0.29,0.26,0.24,0.28,0.30,
  0.295,0.29,0.28,0.275,0.28,0.275,0.27,0.275,0.29,0.285,
  0.28,0.29,0.28,0.28,0.26,0.255,0.26,0.28,0.29,0.31,
  0.305,0.30,0.28,0.26,0.27,0.26,0.28,0.29,0.275,0.26,
  0.25,0.27,0.27,0.255,0.27];
const otherGray2 = [
  0.06,0.07,0.065,0.08,0.07,0.065,0.06,0.065,0.06,0.07,
  0.075,0.07,0.08,0.085,0.08,0.075,0.07,0.08,0.085,0.09,
  0.09,0.10,0.085,0.08,0.075,0.07,0.065,0.07,0.075,0.08,
  0.075,0.08,0.085,0.09,0.085,0.09,0.085,0.09,0.095,0.10,
  0.095,0.10,0.105,0.11,0.115,0.12,0.125,0.13,0.125,0.13,
  0.135,0.13,0.12,0.125,0.13,0.14,0.13,0.135,0.14,0.145,
  0.14,0.15,0.145,0.15,0.155,0.15,0.16,0.155,0.16,0.165,
  0.17,0.175,0.18,0.185,0.19,0.20,0.21,0.22,0.225,0.24,
  0.25,0.27,0.28,0.29,0.30,0.27,0.25,0.26,0.27,0.26,
  0.24,0.25,0.28,0.26,0.29];
const otherGray3 = [
  0.05,0.06,0.055,0.07,0.065,0.09,0.06,0.055,0.06,0.05,
  0.055,0.065,0.07,0.06,0.075,0.07,0.065,0.07,0.08,0.075,
  0.08,0.07,0.075,0.065,0.07,0.065,0.06,0.065,0.07,0.06,
  0.065,0.07,0.08,0.085,0.08,0.09,0.085,0.09,0.095,0.10,
  0.10,0.095,0.10,0.11,0.12,0.11,0.115,0.12,0.13,0.125,
  0.13,0.125,0.13,0.14,0.15,0.14,0.13,0.12,0.13,0.14,
  0.15,0.14,0.155,0.15,0.145,0.16,0.15,0.16,0.155,0.165,
  0.16,0.17,0.165,0.175,0.18,0.185,0.19,0.18,0.19,0.20,
  0.195,0.20,0.19,0.185,0.18,0.175,0.17,0.175,0.18,0.175,
  0.17,0.18,0.19,0.22,0.20];
const otherGray4 = [
  0.035,0.04,0.05,0.045,0.04,0.045,0.05,0.045,0.04,0.05,
  0.045,0.05,0.055,0.05,0.06,0.055,0.05,0.055,0.06,0.065,
  0.06,0.065,0.06,0.055,0.05,0.045,0.05,0.055,0.06,0.065,
  0.07,0.065,0.07,0.075,0.07,0.08,0.075,0.08,0.085,0.09,
  0.085,0.09,0.095,0.09,0.10,0.105,0.10,0.095,0.10,0.105,
  0.10,0.095,0.10,0.11,0.115,0.11,0.105,0.11,0.115,0.12,
  0.12,0.115,0.12,0.125,0.13,0.12,0.125,0.13,0.12,0.125,
  0.13,0.125,0.13,0.135,0.14,0.145,0.14,0.15,0.145,0.15,
  0.155,0.16,0.155,0.15,0.145,0.14,0.15,0.145,0.14,0.15,
  0.14,0.15,0.16,0.14,0.12];
const otherGray5 = [
  0.025,0.03,0.035,0.03,0.035,0.04,0.035,0.03,0.035,0.03,
  0.035,0.04,0.035,0.04,0.045,0.04,0.035,0.04,0.045,0.05,
  0.045,0.05,0.045,0.04,0.035,0.04,0.045,0.04,0.045,0.05,
  0.055,0.06,0.07,0.065,0.07,0.075,0.07,0.075,0.08,0.085,
  0.08,0.075,0.07,0.065,0.06,0.055,0.05,0.06,0.065,0.07,
  0.075,0.08,0.085,0.09,0.08,0.085,0.09,0.095,0.10,0.095,
  0.10,0.105,0.11,0.10,0.105,0.11,0.115,0.12,0.11,0.115,
  0.12,0.125,0.12,0.13,0.125,0.13,0.135,0.14,0.145,0.14,
  0.135,0.14,0.145,0.15,0.14,0.135,0.13,0.135,0.14,0.135,
  0.13,0.14,0.15,0.155,0.13];
const otherGray6 = [
  0.03,0.025,0.02,0.025,0.03,0.025,0.02,0.018,0.02,0.015,
  0.02,0.025,0.03,0.025,0.03,0.035,0.03,0.025,0.03,0.035,
  0.04,0.035,0.03,0.025,0.02,0.018,0.015,0.012,0.01,0.008,
  0.006,0.005,0.0,0.005,0.01,0.015,0.02,0.025,0.03,0.028,
  0.025,0.03,0.02,0.025,0.015,0.02,0.018,0.025,0.015,0.03,
  0.035,0.03,0.04,0.045,0.05,0.055,0.06,0.065,0.06,0.07,
  0.075,0.08,0.085,0.09,0.095,0.10,0.09,0.095,0.10,0.105,
  0.11,0.115,0.11,0.12,0.115,0.12,0.125,0.13,0.12,0.115,
  0.11,0.105,0.10,0.095,0.09,0.085,0.08,0.085,0.09,0.095,
  0.10,0.105,0.11,0.12,0.125];
const otherGray7 = [
  0.065,0.06,0.07,0.06,0.055,0.06,0.065,0.06,0.055,0.06,
  0.065,0.07,0.06,0.065,0.07,0.065,0.06,0.065,0.07,0.065,
  0.07,0.065,0.06,0.055,0.05,0.055,0.06,0.065,0.06,0.065,
  0.06,0.065,0.07,0.06,0.065,0.07,0.075,0.07,0.065,0.06,
  0.05,0.04,0.045,0.035,0.03,0.025,0.03,0.055,0.04,0.03,
  0.03,0.035,0.04,0.055,0.05,0.06,0.07,0.065,0.075,0.08,
  0.085,0.08,0.09,0.10,0.095,0.10,0.105,0.11,0.115,0.12,
  0.125,0.13,0.135,0.14,0.15,0.145,0.15,0.16,0.17,0.175,
  0.18,0.19,0.20,0.21,0.205,0.20,0.19,0.20,0.21,0.215,
  0.20,0.21,0.20,0.19,0.22];

// ---- panel table built from the arrays above ----
const panels = [
  { title: panelTitles[0], mean: chemMean,
    red: [{ start: firstYear, values: chemRedA }, { start: firstYear, values: chemRedB }],
    gray: [chemGray1, chemGray2, chemGray3, chemGray4, chemGray5] },
  { title: panelTitles[1], mean: compMean, red: [],
    gray: [compGray1, compGray2, compGray3, compGray4] },
  { title: panelTitles[2], mean: drugMean,
    red: [{ start: firstYear, values: drugRed1 }, { start: drugRed2Start, values: drugRed2 }],
    gray: [drugGray1, drugGray2] },
  { title: panelTitles[3], mean: elecMean,
    red: [{ start: elecRedStart, values: elecRed }],
    gray: [elecGray1, elecGray2, elecGray3, elecGray4, elecGray5, elecGray6] },
  { title: panelTitles[4], mean: mechMean,
    red: [{ start: firstYear, values: mechRed }],
    gray: [mechGray1, mechGray2, mechGray3, mechGray4, mechGray5, mechGray6] },
  { title: panelTitles[5], mean: otherMean,
    red: [{ start: firstYear, values: otherRedHigh }, { start: firstYear, values: otherRedLow }],
    gray: [otherGray1, otherGray2, otherGray3, otherGray4, otherGray5, otherGray6, otherGray7] }
];

// ---- layout ----
const boxW = 471.3, boxH = 291.7;
const colLeft = [62.7, 687.7];
const rowTop = [45, 464.2, 883.4];
const fontTick = 21.5, fontTitle = 27;
const gridColor = "#d3d3d3";

const svg = d3.select("#chart");
const toPoints = (values, start) => values.map((v, i) => ({ year: start + i, v }));

panels.forEach((p, i) => {
  const left = colLeft[i % 2];
  const top = rowTop[Math.floor(i / 2)];
  const x = d3.scaleLinear().domain([1916, 2024]).range([left, left + boxW]);
  const y = d3.scaleLinear().domain([-0.032, 0.832]).range([top + boxH, top]);
  const g = svg.append("g");

  const clipId = "clip" + i;
  svg.append("clipPath").attr("id", clipId)
    .append("rect").attr("x", left).attr("y", top).attr("width", boxW).attr("height", boxH);

  // dotted vertical grid every ten years
  g.append("g").selectAll("line").data(d3.range(1920, 2021, 10)).join("line")
    .attr("x1", d => x(d)).attr("x2", d => x(d))
    .attr("y1", top).attr("y2", top + boxH)
    .attr("stroke", gridColor).attr("stroke-width", 1.3)
    .attr("stroke-dasharray", "1.5,3.5");

  // solid horizontal grid
  g.append("g").selectAll("line").data(yTicks.filter(v => v > 0)).join("line")
    .attr("x1", left).attr("x2", left + boxW)
    .attr("y1", d => y(d)).attr("y2", d => y(d))
    .attr("stroke", gridColor).attr("stroke-width", 1.6);

  // zero reference line
  g.append("line")
    .attr("x1", left).attr("x2", left + boxW)
    .attr("y1", y(0)).attr("y2", y(0))
    .attr("stroke", "#1a1a1a").attr("stroke-width", 1.6);

  const line = d3.line().x(d => x(d.year)).y(d => y(d.v));
  const lines = g.append("g").attr("clip-path", `url(#${clipId})`)
    .attr("fill", "none").attr("stroke-linejoin", "round").attr("stroke-linecap", "round");

  lines.selectAll("path.gray").data(p.gray).join("path").attr("class", "gray")
    .attr("d", d => line(toPoints(d, firstYear)))
    .attr("stroke", "#a3a3a3").attr("stroke-width", 1.5);

  lines.selectAll("path.red").data(p.red).join("path").attr("class", "red")
    .attr("d", d => line(toPoints(d.values, d.start)))
    .attr("stroke", "#ff0000").attr("stroke-width", 1.5);

  lines.append("path")
    .attr("d", line(toPoints(p.mean, firstYear)))
    .attr("stroke", "#000").attr("stroke-width", 4.8);

  // box
  g.append("rect").attr("x", left).attr("y", top).attr("width", boxW).attr("height", boxH)
    .attr("fill", "none").attr("stroke", "#000").attr("stroke-width", 1.5);

  // x axis
  const xAxis = d3.axisBottom(x).tickValues(xTicks).tickFormat(d3.format("d"))
    .tickSize(14.3).tickPadding(20.2);
  const gx = g.append("g").attr("transform", `translate(0,${top + boxH})`).call(xAxis);
  gx.select(".domain").remove();
  gx.selectAll(".tick line").attr("stroke", "#000").attr("stroke-width", 1.5);
  gx.selectAll(".tick text").attr("font-size", fontTick).attr("fill", "#000")
    .attr("font-family", "Liberation Sans, Arial, Helvetica, sans-serif");

  // y axis with rotated labels
  const yAxis = d3.axisLeft(y).tickValues(yTicks).tickFormat((d, k) => yTickLabels[k])
    .tickSize(14.7);
  const gy = g.append("g").attr("transform", `translate(${left},0)`).call(yAxis);
  gy.select(".domain").remove();
  gy.selectAll(".tick line").attr("stroke", "#000").attr("stroke-width", 1.5);
  gy.selectAll(".tick text")
    .attr("x", null).attr("dy", null)
    .attr("transform", "translate(-32,0) rotate(-90)")
    .attr("text-anchor", "middle")
    .attr("font-size", fontTick).attr("fill", "#000")
    .attr("font-family", "Liberation Sans, Arial, Helvetica, sans-serif");

  // title
  g.append("text")
    .attr("x", left + boxW / 2).attr("y", top - 11)
    .attr("text-anchor", "middle")
    .attr("font-size", fontTitle).attr("font-weight", "bold")
    .text(p.title);
});
</script>
</body>
</html>
